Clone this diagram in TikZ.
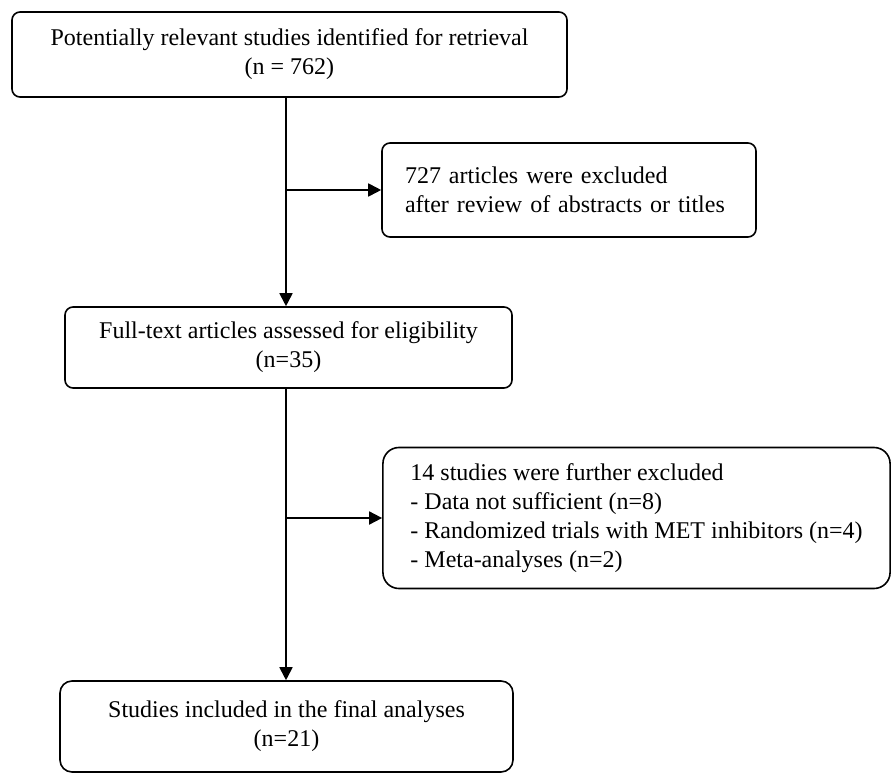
\documentclass[tikz,border=0pt]{standalone}
\usepackage{fontspec}
\setmainfont{Liberation Serif}
\usetikzlibrary{arrows.meta}

\begin{document}
\begin{tikzpicture}[x=1pt, y=-1pt,
  box/.style={draw, line width=1.6pt, rounded corners=8pt, align=center,
    inner sep=0pt, font=\fontsize{24}{29}\selectfont},
  sidebox/.style={box, align=left, inner xsep=23pt},
  flow/.style={line width=1.8pt, -{Triangle[length=13pt,width=13pt]}}]

\useasboundingbox (0,0) rectangle (891,773);

% Main boxes
\node[box, minimum width=555, minimum height=85] (ident) at (289.5,54.5)
  {Potentially relevant studies identified for retrieval\\(n = 762)};
\node[box, minimum width=447, minimum height=81] (elig) at (288.5,347.5)
  {Full-text articles assessed for eligibility\\(n=35)};
\node[box, rounded corners=12pt, minimum width=453, minimum height=91] (incl) at (286.5,726.5)
  {Studies included in the final analyses\\(n=21)};

% Excluded boxes
\node[sidebox, text width=328, minimum height=94] (excl1) at (569,190)
  {727 articles were excluded\\after review of abstracts or titles};
\node[sidebox, rounded corners=16pt, inner xsep=27.5pt, minimum height=141] (excl2) at (636.5,518)
  {14 studies were further excluded\\- Data not sufficient (n=8)\\- Randomized trials with MET inhibitors (n=4)\\- Meta-analyses (n=2)};

% Arrows
\coordinate (trunk) at (286,0);
\draw[flow] (ident.south -| trunk) -- (elig.north -| trunk);
\draw[flow] (elig.south -| trunk) -- (incl.north -| trunk);
\draw[flow] (excl1.west -| trunk) -- (excl1.west);
\draw[flow] (excl2.west -| trunk) -- (excl2.west);

\end{tikzpicture}
\end{document}
